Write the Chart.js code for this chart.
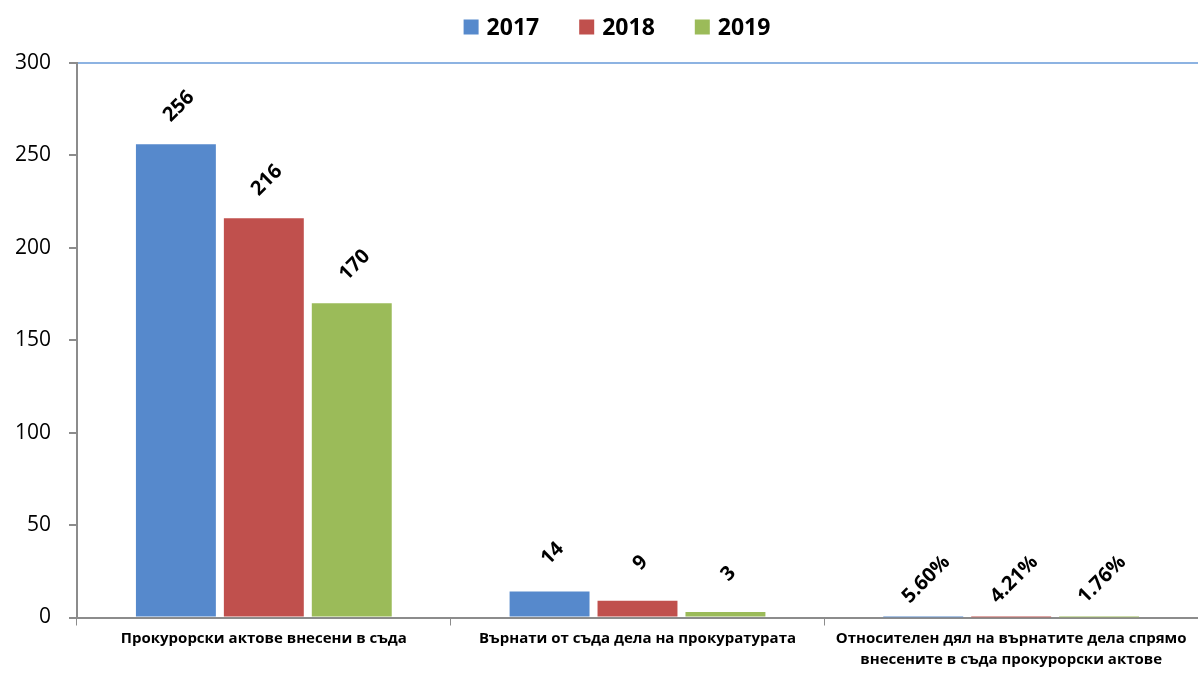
<!DOCTYPE html>
<html>
<head>
<meta charset="utf-8">
<script src="https://cdn.jsdelivr.net/npm/chart.js@4/dist/chart.umd.min.js"></script>
<style>
  html, body { margin: 0; padding: 0; background: #fff; }
  #wrap { width: 1198px; height: 673px; }
</style>
</head>
<body>
<div id="wrap"><canvas id="chart"></canvas></div>
<script>
// categories (x axis)
const categories = [
    'Прокурорски актове внесени в съда',
    'Върнати от съда дела на прокуратурата',
    ['Относителен дял на върнатите дела спрямо', 'внесените в съда прокурорски актове']
];
const years = ['2017', '2018', '2019'];

// values per year; the third category is a share (fraction)
const values2017 = [256, 14, 0.056];
const values2018 = [216, 9, 0.0421];
const values2019 = [170, 3, 0.0176];

const yTicks = [0, 50, 100, 150, 200, 250, 300];
const colors = ['#5689cc', '#c0504d', '#9bbb59'];

const FONT = '"Open Sans", "Noto Sans", sans-serif';

function fmt(v, idx) {
    if (idx === 2) return (v * 100).toFixed(2) + '%';
    return String(v);
}

// rotated value labels above each bar
const barLabels = {
    id: 'barLabels',
    afterDatasetsDraw(chart) {
        const ctx = chart.ctx;
        ctx.save();
        ctx.font = 'bold 20px ' + FONT;
        ctx.fillStyle = '#000';
        ctx.textAlign = 'center';
        ctx.textBaseline = 'middle';
        chart.data.datasets.forEach((ds, i) => {
            const meta = chart.getDatasetMeta(i);
            meta.data.forEach((bar, j) => {
                ctx.save();
                ctx.translate(bar.x + 3, bar.y - 38);
                ctx.rotate(-Math.PI / 4);
                ctx.fillText(fmt(ds.data[j], j), 0, 0);
                ctx.restore();
            });
        });
        ctx.restore();
    }
};

// legend drawn by hand so the top of the plot can sit where it should
const topLegend = {
    id: 'topLegend',
    afterDraw(chart) {
        const ctx = chart.ctx;
        const box = 15, gap = 8, space = 40, y = 27;
        ctx.save();
        ctx.font = 'bold 23px ' + FONT;
        ctx.textBaseline = 'middle';
        ctx.textAlign = 'left';
        const items = chart.data.datasets.map(ds => ({
            text: ds.label, color: ds.backgroundColor, w: ctx.measureText(ds.label).width
        }));
        let total = 0;
        items.forEach((it, i) => { total += box + gap + it.w + (i ? space : 0); });
        let x = (chart.width - total) / 2 + 18;
        items.forEach(it => {
            ctx.fillStyle = it.color;
            ctx.fillRect(x, y - box / 2, box, box);
            ctx.fillStyle = '#000';
            ctx.fillText(it.text, x + box + gap, y + 1);
            x += box + gap + it.w + space;
        });
        ctx.restore();
    }
};

const datasets = [values2017, values2018, values2019].map((vals, i) => ({
    label: years[i],
    data: vals,
    backgroundColor: colors[i],
    borderWidth: 0,
    categoryPercentage: 0.706,
    barPercentage: 0.909
}));

new Chart(document.getElementById('chart').getContext('2d'), {
    type: 'bar',
    data: { labels: categories, datasets: datasets },
    plugins: [barLabels, topLegend],
    options: {
        responsive: true,
        maintainAspectRatio: false,
        animation: false,
        layout: { padding: { top: 63, right: 0, bottom: 0, left: 0 } },
        plugins: {
            tooltip: { enabled: false },
            legend: { display: false }
        },
        scales: {
            x: {
                grid: {
                    drawOnChartArea: false,
                    drawTicks: true,
                    tickLength: 8,
                    color: '#8c8c8c',
                    offset: true
                },
                border: { color: '#8c8c8c', width: 2 },
                ticks: {
                    font: { family: FONT, size: 15, weight: 'bold', lineHeight: 1.45 },
                    color: '#000',
                    maxRotation: 0,
                    padding: 2
                }
            },
            y: {
                min: 0,
                max: 300,
                afterBuildTicks: s => { s.ticks = yTicks.map(v => ({ value: v })); },
                afterFit: s => { s.width = 77; },
                grid: {
                    drawTicks: true,
                    tickLength: 8,
                    tickColor: '#8c8c8c',
                    color: c => (c.tick && c.tick.value === 300) ? '#8db3e2' : 'rgba(0,0,0,0)',
                    lineWidth: 2
                },
                border: { color: '#8c8c8c', width: 2 },
                ticks: {
                    font: { family: FONT, size: 21 },
                    color: '#000',
                    padding: 18
                }
            }
        }
    }
});
</script>
</body>
</html>
